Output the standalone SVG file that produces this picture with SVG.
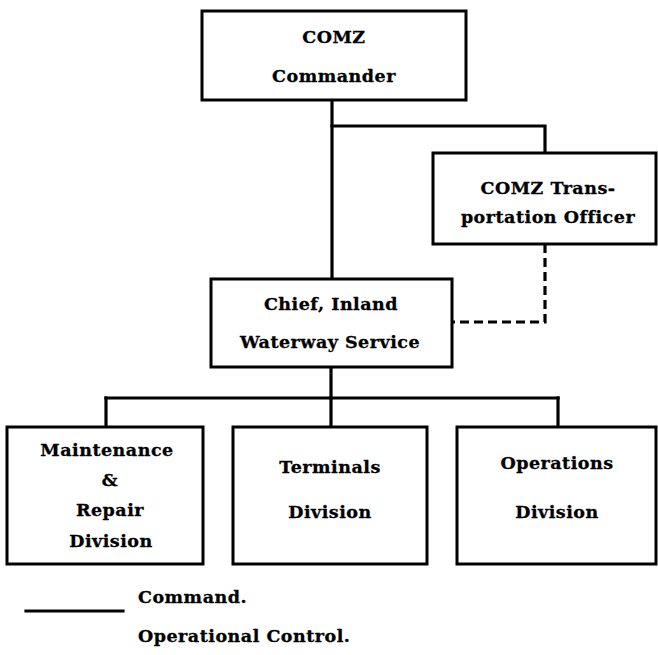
<svg xmlns="http://www.w3.org/2000/svg" width="658" height="655" viewBox="0 0 658 655">
<style>
.box{fill:#fff;stroke:#000;stroke-width:3}
.ln{fill:none;stroke:#000;stroke-width:3.2;stroke-linecap:square}
.dash{fill:none;stroke:#000;stroke-width:3.2;stroke-dasharray:9 5}
text{font-family:"DejaVu Serif","Liberation Serif",serif;font-weight:bold;font-size:17.5px;letter-spacing:0.5px;fill:#000;text-anchor:middle;stroke:#000;stroke-width:0.3}
.lg{text-anchor:start}
</style>
<rect width="658" height="655" fill="#fff"/>
<g id="connectors">
<path class="ln" d="M332,100 V279"/>
<path class="ln" d="M332,126 H545 V153"/>
<path class="dash" d="M545,244 V322 H452"/>
<path class="ln" d="M331,367 V398"/>
<path class="ln" d="M106,398 H558"/>
<path class="ln" d="M106,398 V427"/>
<path class="ln" d="M331,398 V427"/>
<path class="ln" d="M558,398 V427"/>
</g>
<g id="comz-commander">
<rect class="box" x="202" y="11" width="264" height="89"/>
<text x="334" y="43">COMZ</text>
<text x="334" y="82">Commander</text>
</g>
<g id="comz-transportation-officer">
<rect class="box" x="433" y="153" width="223" height="91"/>
<text x="548" y="194">COMZ Trans-</text>
<text x="548" y="223">portation Officer</text>
</g>
<g id="chief-iws">
<rect class="box" x="211" y="279" width="241" height="88"/>
<text x="331" y="310">Chief, Inland</text>
<text x="330" y="348">Waterway Service</text>
</g>
<g id="maintenance-repair">
<rect class="box" x="7" y="427" width="196" height="137"/>
<text x="107" y="456">Maintenance</text>
<text x="110" y="486">&amp;</text>
<text x="110" y="516">Repair</text>
<text x="111" y="547">Division</text>
</g>
<g id="terminals">
<rect class="box" x="233" y="427" width="194" height="137"/>
<text x="330" y="473">Terminals</text>
<text x="330" y="518">Division</text>
</g>
<g id="operations">
<rect class="box" x="457" y="427" width="199" height="137"/>
<text x="557" y="469">Operations</text>
<text x="557" y="518">Division</text>
</g>
<g id="legend">
<path class="ln" d="M26,611 H123"/>
<text class="lg" x="138" y="603">Command.</text>
<text class="lg" x="138" y="642">Operational Control.</text>
</g>
</svg>
